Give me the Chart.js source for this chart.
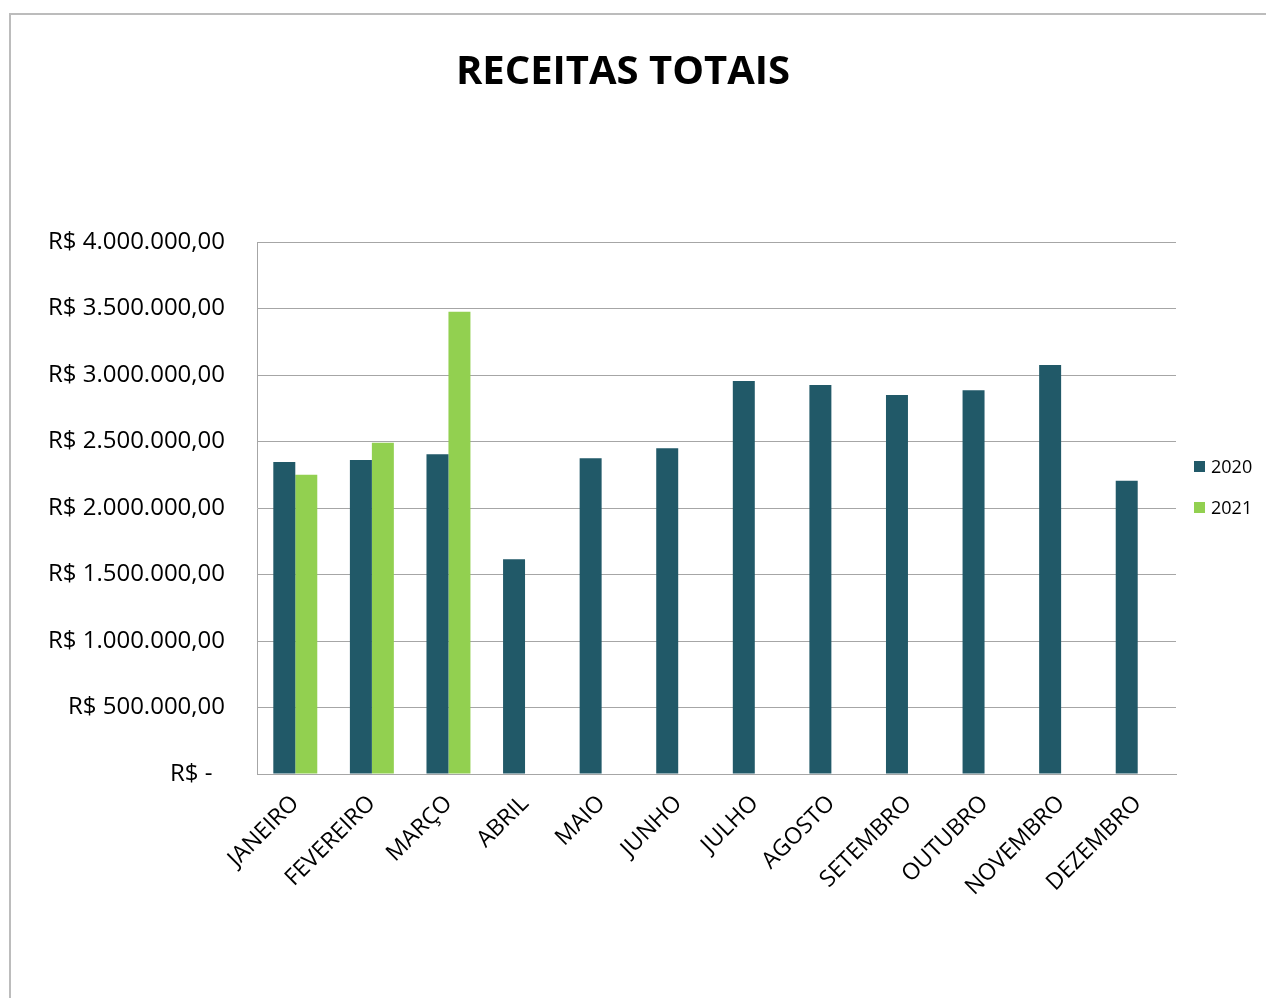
<!DOCTYPE html>
<html>
<head>
<meta charset="utf-8">
<script src="https://cdn.jsdelivr.net/npm/chart.js@4.4.1/dist/chart.umd.min.js"></script>
<style>
  html, body { margin: 0; padding: 0; background: #fff; }
  body { width: 1266px; height: 998px; position: relative; overflow: hidden; font-family: "Open Sans", sans-serif; }
  #frame { position: absolute; left: 9px; top: 13px; width: 1400px; height: 1100px;
           border-left: 2px solid #bcbcbc; border-top: 2px solid #bcbcbc; }
  #wrap { position: absolute; left: 0; top: 0; width: 1266px; height: 998px; }
  #legend { position: absolute; left: 1194px; top: 454px; font-size: 18px; color: #000; }
  #legend div { height: 41px; line-height: 24px; white-space: nowrap; }
  #legend span.box { display: inline-block; width: 11px; height: 11px; margin-right: 6px; vertical-align: 1px; }
</style>
</head>
<body>
<div id="frame"></div>
<div id="wrap"><canvas id="myChart" width="1266" height="998"></canvas></div>
<div id="legend"></div>
<script>
var months = ["JANEIRO", "FEVEREIRO", "MARÇO", "ABRIL", "MAIO", "JUNHO", "JULHO", "AGOSTO", "SETEMBRO", "OUTUBRO", "NOVEMBRO", "DEZEMBRO"];
var years = ["2020", "2021"];
var receitas2020 = [2345000, 2360000, 2405000, 1615000, 2375000, 2450000, 2955000, 2925000, 2850000, 2885000, 3075000, 2205000];
var receitas2021 = [2250000, 2490000, 3475000, null, null, null, null, null, null, null, null, null];
var colors = ["#215968", "#92D050"];

function reais(v) {
    if (v === 0) return "R$ -  ";
    var s = String(Math.round(v));
    var out = "";
    while (s.length > 3) {
        out = "." + s.slice(-3) + out;
        s = s.slice(0, -3);
    }
    return "R$ " + s + out + ",00";
}

var ctx = document.getElementById("myChart").getContext('2d');
var myChart = new Chart(ctx, {
    type: 'bar',
    data: {
        labels: months,
        datasets: [{
            label: years[0],
            data: receitas2020,
            backgroundColor: colors[0],
            categoryPercentage: 0.574,
            barPercentage: 1
        }, {
            label: years[1],
            data: receitas2021,
            backgroundColor: colors[1],
            categoryPercentage: 0.574,
            barPercentage: 1
        }]
    },
    options: {
        responsive: false,
        animation: false,
        layout: { padding: { left: 0, right: 20, top: 0, bottom: 0 } },
        plugins: {
            legend: { display: false },
            tooltip: { enabled: false },
            title: {
                display: true,
                text: "RECEITAS TOTAIS",
                color: "#000",
                font: { family: "Open Sans", size: 40, weight: 'bold', lineHeight: 1.2 },
                padding: { top: 49, bottom: 145 }
            }
        },
        scales: {
            x: {
                grid: { display: false, drawTicks: false },
                border: { display: true, color: "#a6a6a6", width: 1 },
                ticks: {
                    color: "#000",
                    font: { family: "Open Sans", size: 23 },
                    minRotation: 45,
                    maxRotation: 45,
                    autoSkip: false,
                    padding: 16
                },
                afterFit: function (scale) { scale.height = 224; }
            },
            y: {
                min: 0,
                max: 4000000,
                grid: { color: "#a6a6a6", drawTicks: false },
                border: { display: true, color: "#a6a6a6", width: 1 },
                ticks: {
                    stepSize: 500000,
                    color: "#000",
                    font: { family: "Open Sans", size: 24 },
                    padding: 32,
                    callback: function (v) { return reais(v); }
                },
                afterFit: function (scale) { scale.width = 257; }
            },
            // empty right-hand column where the legend sits
            legendSpace: {
                type: 'linear',
                position: 'right',
                grid: { display: false, drawTicks: false },
                border: { display: false },
                ticks: { display: false },
                afterFit: function (scale) { scale.width = 70; }
            }
        }
    }
});

var legend = document.getElementById("legend");
myChart.data.datasets.forEach(function (ds) {
    var row = document.createElement("div");
    row.innerHTML = '<span class="box" style="background:' + ds.backgroundColor + '"></span>' + ds.label;
    legend.appendChild(row);
});
</script>
</body>
</html>
